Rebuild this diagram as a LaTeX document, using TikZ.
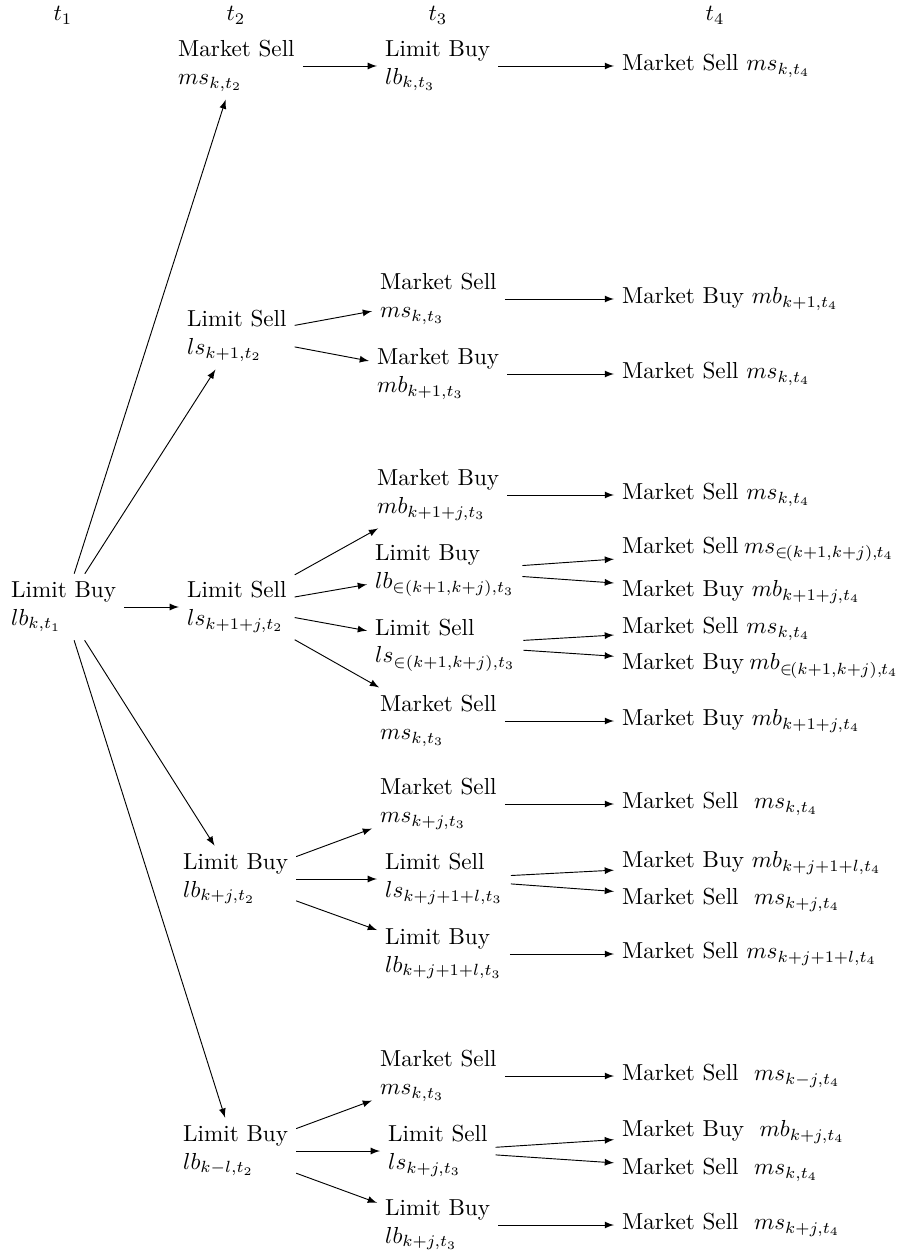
\documentclass[tikz,border=0pt]{standalone}
\usetikzlibrary{arrows}
\begin{document}
\begin{tikzpicture}[x=0.432pt,y=-0.432pt,
  box/.style={align=left,anchor=west,inner sep=3.33pt},
  leaf/.style={anchor=west,inner sep=3.33pt},
  hdr/.style={anchor=base,inner sep=0pt},
  arr/.style={-latex}]
\useasboundingbox (0,0) rectangle (898,1257);
% headers
\node[hdr] (h1) at (63,21) {$t_1$};
\node[hdr] (h2) at (236,21) {$t_2$};
\node[hdr] (h3) at (438,21) {$t_3$};
\node[hdr] (h4) at (715,21) {$t_4$};
% t1
\node[box] (A) at (3,607) {Limit Buy\\$lb_{k,t_1}$};
% t2
\node[box] (B1) at (170,66) {Market Sell\\$ms_{k,t_2}$};
\node[box] (B2) at (179,336) {Limit Sell\\$ls_{k+1,t_2}$};
\node[box] (B3) at (179,607) {Limit Sell\\$ls_{k+1+j,t_2}$};
\node[box] (B4) at (175,879) {Limit Buy\\$lb_{k+j,t_2}$};
\node[box] (B5) at (175,1151) {Limit Buy\\$lb_{k-l,t_2}$};
% t3
\node[box] (C1) at (377,66) {Limit Buy\\$lb_{k,t_3}$};
\node[box] (C2) at (372,299) {Market Sell\\$ms_{k,t_3}$};
\node[box] (C3) at (369,374) {Market Buy\\$mb_{k+1,t_3}$};
\node[box] (C4) at (369,495) {Market Buy\\$mb_{k+1+j,t_3}$};
\node[box] (C5) at (367,571) {Limit Buy\\$lb_{\in(k+1,k+j),t_3}$};
\node[box] (C6) at (367,645) {Limit Sell\\$ls_{\in(k+1,k+j),t_3}$};
\node[box] (C7) at (372,721) {Market Sell\\$ms_{k,t_3}$};
\node[box] (C8) at (372,804) {Market Sell\\$ms_{k+j,t_3}$};
\node[box] (C9) at (377,879) {Limit Sell\\$ls_{k+j+1+l,t_3}$};
\node[box] (C10) at (377,954) {Limit Buy\\$lb_{k+j+1+l,t_3}$};
\node[box] (C11) at (372,1076) {Market Sell\\$ms_{k,t_3}$};
\node[box] (C12) at (380,1151) {Limit Sell\\$ls_{k+j,t_3}$};
\node[box] (C13) at (377,1225) {Limit Buy\\$lb_{k+j,t_3}$};
% t4
\node[leaf] (D1) at (614,66) {Market Sell $ms_{k,t_4}$};
\node[leaf] (D2) at (614,299) {Market Buy $mb_{k+1,t_4}$};
\node[leaf] (D3) at (614,374) {Market Sell $ms_{k,t_4}$};
\node[leaf] (D4) at (614,495) {Market Sell $ms_{k,t_4}$};
\node[leaf] (D5) at (614,549) {Market Sell\hspace{-1pt} $ms_{\in\mkern-2mu(k+1,k+j),\mkern-1mu t_4}$};
\node[leaf] (D6) at (614,592) {Market Buy $mb_{k+1+j,t_4}$};
\node[leaf] (D7) at (614,629) {Market Sell $ms_{k,t_4}$};
\node[leaf] (D8) at (614,666) {Market Buy\hspace{-1pt} $mb_{\in\mkern-2mu(k+1,k+j),\mkern-1mu t_4}$};
\node[leaf] (D9) at (614,721) {Market Buy $mb_{k+1+j,t_4}$};
\node[leaf] (D10) at (614,804) {Market Sell \ $ms_{k,t_4}$};
\node[leaf] (D11) at (614,863) {Market Buy $mb_{k+j+1+l,t_4}$};
\node[leaf] (D12) at (614,900) {Market Sell \ $ms_{k+j,t_4}$};
\node[leaf] (D13) at (614,954) {Market Sell $ms_{k+j+1+l,t_4}$};
\node[leaf] (D14) at (614,1076) {Market Sell \ $ms_{k-j,t_4}$};
\node[leaf] (D15) at (614,1132) {Market Buy \ $mb_{k+j,t_4}$};
\node[leaf] (D16) at (614,1170) {Market Sell \ $ms_{k,t_4}$};
\node[leaf] (D17) at (614,1225) {Market Sell \ $ms_{k+j,t_4}$};
% edges
\foreach \s/\t in {A/B1,A/B2,A/B3,A/B4,A/B5,
  B1/C1,C1/D1,
  B2/C2,B2/C3,C2/D2,C3/D3,
  B3/C4,B3/C5,B3/C6,B3/C7,C4/D4,C5/D5,C5/D6,C6/D7,C6/D8,C7/D9,
  B4/C8,B4/C9,B4/C10,C8/D10,C9/D11,C9/D12,C10/D13,
  B5/C11,B5/C12,B5/C13,C11/D14,C12/D15,C12/D16,C13/D17}
  \draw[arr] (\s) -- (\t);
\end{tikzpicture}
\end{document}
